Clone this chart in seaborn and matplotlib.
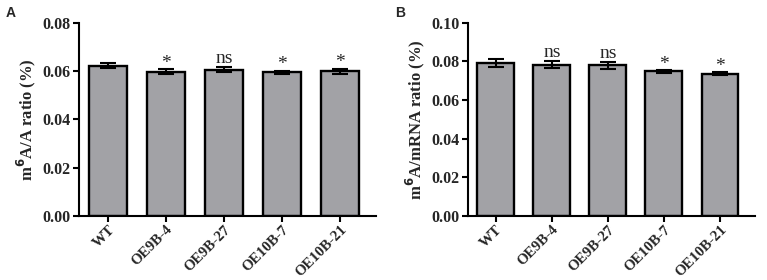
import matplotlib
matplotlib.use("Agg")
import matplotlib.pyplot as plt
import seaborn as sns
import pandas as pd

categories = ["WT", "OE9B-4", "OE9B-27", "OE10B-7", "OE10B-21"]
a_values = [0.0622, 0.0597, 0.0606, 0.0594, 0.0598]
a_errors = [0.0010, 0.0010, 0.0010, 0.0006, 0.0010]
a_marks = ["", "*", "ns", "*", "*"]
b_values = [0.0792, 0.0782, 0.0779, 0.0748, 0.0735]
b_errors = [0.0022, 0.0018, 0.0020, 0.0006, 0.0008]
b_marks = ["", "ns", "ns", "*", "*"]

sns.set_style("ticks")
serif = ["Liberation Serif", "DejaVu Serif"]
plt.rcParams["font.family"] = serif

fig = plt.figure(figsize=(7.67, 2.8), dpi=100)
axA = fig.add_axes([0.103, 0.229, 0.387, 0.690])
axB = fig.add_axes([0.610, 0.229, 0.374, 0.690])

panels = [
    (axA, a_values, a_errors, a_marks, 0.08, [0.00, 0.02, 0.04, 0.06, 0.08],
     r"m$^{\mathbf{6}}$A/A ratio (%)", "A"),
    (axB, b_values, b_errors, b_marks, 0.10, [0.00, 0.02, 0.04, 0.06, 0.08, 0.10],
     r"m$^{\mathbf{6}}$A/mRNA ratio (%)", "B"),
]

for ax, vals, errs, marks, ymax, yticks, ylabel, letter in panels:
    df = pd.DataFrame({"cat": categories, "val": vals})
    sns.barplot(data=df, x="cat", y="val", ax=ax, color="#a2a2a6",
                edgecolor="black", linewidth=1.7, width=0.66, saturation=1,
                errorbar=None)
    ax.errorbar(range(len(categories)), vals, yerr=errs, fmt="none",
                ecolor="black", elinewidth=1.5, capsize=6, capthick=1.5, zorder=3)
    for i, (v, e, m) in enumerate(zip(vals, errs, marks)):
        if m:
            off = -ymax * 0.012 if m == "*" else ymax * 0.0
            ax.text(i, v + e + off, m, ha="center", va="bottom",
                    fontsize=14, family=serif)
    ax.set_ylim(0, ymax)
    ax.set_xlim(-0.5, 4.62)
    ax.set_yticks(yticks)
    ax.set_yticklabels([f"{t:.2f}" for t in yticks], fontsize=11.5, fontweight="bold")
    ax.set_xticks(range(len(categories)))
    ax.set_xticklabels(categories, rotation=45, ha="right", rotation_mode="anchor",
                       fontsize=10.8, fontweight="bold")
    ax.set_xlabel("")
    ax.set_ylabel(ylabel, fontsize=12, fontweight="bold", labelpad=3)
    sns.despine(ax=ax)
    for s in ["left", "bottom"]:
        ax.spines[s].set_linewidth(1.5)
        ax.spines[s].set_color("black")
    ax.tick_params(axis="both", width=1.5, length=4, color="black", pad=2)
    ax.tick_params(axis="x", pad=1)
    pos = ax.get_position()
    fig.text(pos.x0 - 0.095, 0.955, letter, fontsize=10, fontweight="bold",
             family=["Liberation Sans", "DejaVu Sans"], va="center")

fig.savefig("out.png", dpi=100)
